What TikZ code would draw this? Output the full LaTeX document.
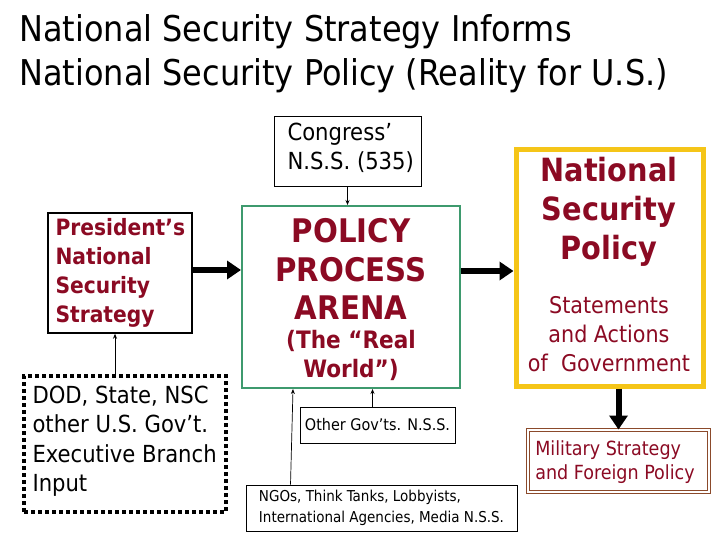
\documentclass[tikz,border=0pt]{standalone}
\usepackage{fontspec}
\setmainfont{DejaVu Sans Condensed}
\usetikzlibrary{arrows.meta}
\definecolor{dred}{HTML}{8B0A23}
\definecolor{ygold}{HTML}{F5C518}
\definecolor{pgreen}{HTML}{3E9A6E}
\definecolor{brn}{HTML}{8B4A2B}
\tikzset{
  bx/.style={draw, inner sep=0pt},
  thin arr/.style={-{Stealth[length=5pt,width=4pt]}, line width=0.7pt},
  thick arr/.style={-{Triangle[length=14pt,width=18pt]}, line width=6pt},
  redtxt/.style={text=dred, font=\bfseries, align=center},
}
\begin{document}
\begin{tikzpicture}[x=1pt,y=-1pt]
\useasboundingbox (0,0) rectangle (720,540);
% title
\node[anchor=west, font=\fontsize{35.5}{40}\selectfont] (t1) at (16,32) {National Security Strategy Informs};
\node[anchor=west, font=\fontsize{35.5}{40}\selectfont] (t2) at (16,76) {National Security Policy (Reality for U.S.)};
% boxes
\node[bx, line width=0.6pt, minimum width=147pt, minimum height=70pt] (cong) at (347.5,151) {};
\node[anchor=west, align=left, font=\fontsize{23.5}{29}\selectfont] at (284,148) {Congress’\\N.S.S. (535)};
\node[bx, line width=1.5pt, minimum width=144pt, minimum height=120pt] (pres) at (120,273) {};
\node[anchor=west, text=dred, font=\bfseries\fontsize{22.5}{29}\selectfont, align=left] at (52,273) {President’s\\National\\Security\\Strategy};
\node[bx, draw=pgreen, line width=2pt, minimum width=218pt, minimum height=182pt] (arena) at (351,297) {};
\node[redtxt, font=\bfseries\fontsize{32.5}{38.5}\selectfont] at (351,269) {POLICY\\PROCESS\\ARENA};
\node[redtxt, font=\bfseries\fontsize{24}{29}\selectfont] at (351,355) {(The “Real\\World”)};
\node[bx, draw=ygold, line width=5pt, minimum width=187pt, minimum height=236pt] (nsp) at (609.5,268) {};
\node[redtxt, font=\bfseries\fontsize{32}{39}\selectfont] at (609,212) {National\\Security\\Policy};
\node[text=dred, align=center, font=\fontsize{23}{29}\selectfont] at (609,334) {Statements\\and Actions\\of~ Government};
\node[bx, draw=brn, line width=1pt, double=white, double distance=2pt, minimum width=181pt, minimum height=62pt] (mil) at (618.5,461) {};
\node[text=dred, align=left, font=\fontsize{19.5}{24}\selectfont] at (615,462) {Military Strategy\\and Foreign Policy};
\node[bx, line width=4pt, dash pattern=on 4pt off 3pt, minimum width=202pt, minimum height=136pt] (dod) at (125,444) {};
\node[anchor=west, align=left, font=\fontsize{23.5}{29.5}\selectfont] at (29,441) {DOD, State, NSC\\other U.S. Gov't.\\Executive Branch\\Input};
\node[bx, line width=0.6pt, minimum width=155pt, minimum height=36pt, font=\fontsize{16}{18}\selectfont] (oth) at (377.5,425) {Other Gov’ts. N.S.S.};
\node[bx, line width=0.6pt, minimum width=271pt, minimum height=46pt, align=left, font=\fontsize{15}{21}\selectfont] (ngo) at (381.5,508) {NGOs, Think Tanks, Lobbyists,\\International Agencies, Media N.S.S.};
% arrows
\draw[thin arr] (cong.south) -- (cong.south |- arena.north);
\draw[thick arr] (pres.east) ++(0,-3) coordinate (pe) -- (arena.west |- pe);
\draw[thick arr] (arena.east) ++(0,-26) coordinate (ae) -- (nsp.west |- ae);
\draw[thick arr] (nsp.south) ++(9,0) coordinate (ns) -- (mil.north -| ns);
\draw[thin arr] (dod.north) ++(-10,0) coordinate (dn) -- (pres.south -| dn);
\draw[thin arr] (oth.north) ++(-5,0) coordinate (on) -- (arena.south -| on);
\coordinate (nn) at ([xshift=-91pt]ngo.north);
\coordinate (na) at ([xshift=-58pt]arena.south);
\draw[thin arr] (nn) -- (na);
\end{tikzpicture}
\end{document}
